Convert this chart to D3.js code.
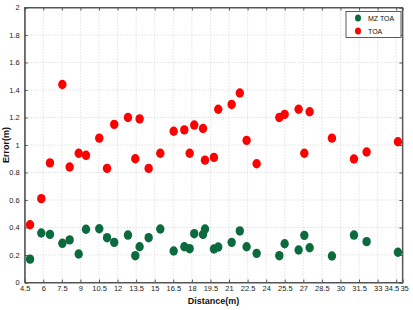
<!DOCTYPE html>
<html><head><meta charset="utf-8">
<script src="https://cdn.jsdelivr.net/npm/d3@7"></script>
<style>
body{margin:0;background:#fff;}
svg{display:block;font-family:"Liberation Sans",Arial,sans-serif;}
</style></head>
<body><svg id="c" width="413" height="310"></svg>
<script>
const distances = [4.93,5.84,6.54,7.54,8.13,8.86,9.45,10.52,11.15,11.73,12.84,13.43,13.78,14.51,15.45,16.53,17.39,17.82,18.19,18.9,19.06,19.78,20.13,21.21,21.87,22.42,23.23,25.06,25.49,26.62,27.08,27.51,29.31,31.09,32.11,34.64];
const toa = [0.42,0.61,0.87,1.44,0.84,0.94,0.925,1.05,0.83,1.15,1.20,0.90,1.19,0.83,0.94,1.10,1.11,0.94,1.145,1.12,0.89,0.91,1.26,1.295,1.378,1.034,0.864,1.20,1.223,1.26,0.94,1.242,1.05,0.898,0.949,1.024];
const mzToa = [0.17,0.36,0.35,0.285,0.31,0.207,0.387,0.391,0.326,0.292,0.345,0.195,0.26,0.326,0.389,0.229,0.26,0.246,0.355,0.35,0.389,0.244,0.258,0.292,0.375,0.26,0.212,0.195,0.282,0.236,0.343,0.253,0.193,0.345,0.297,0.22];
const xTicks = [4.5,6,7.5,9,10.5,12,13.5,15,16.5,18,19.5,21,22.5,24,25.5,27,28.5,30,31.5,33,34.5,35];
const yTicks = [0,0.2,0.4,0.6,0.8,1,1.2,1.4,1.6,1.8,2];
const seriesNames = ["MZ TOA","TOA"];
const seriesColors = ["#0b6b3f","#ff0000"];

const svg = d3.select("#c");
const L=24.7, R=402.4, T=7.5, B=282.5;
const x = d3.scaleLinear().domain([4.5,35]).range([L,R]);
const y = d3.scaleLinear().domain([0,2]).range([B,T]);

// grid
const g = svg.append("g");
g.selectAll(".vg").data(xTicks).join("line")
  .attr("x1",d=>x(d)).attr("x2",d=>x(d)).attr("y1",T).attr("y2",B)
  .attr("stroke","#c8c8c8").attr("stroke-width",0.8).attr("stroke-dasharray","1,2");
g.selectAll(".hg").data(yTicks).join("line")
  .attr("x1",L).attr("x2",R).attr("y1",d=>y(d)).attr("y2",d=>y(d))
  .attr("stroke","#c8c8c8").attr("stroke-width",0.8).attr("stroke-dasharray","1,2");

// box
svg.append("rect").attr("x",L).attr("y",T).attr("width",R-L).attr("height",B-T)
  .attr("fill","none").attr("stroke","#555").attr("stroke-width",1);

// axes
const xa = svg.append("g").attr("transform",`translate(0,${B})`)
  .call(d3.axisBottom(x).tickValues(xTicks).tickSize(-3).tickPadding(5).tickFormat(d=>String(d)));
const ya = svg.append("g").attr("transform",`translate(${L},0)`)
  .call(d3.axisLeft(y).tickValues(yTicks).tickSize(-3).tickPadding(5).tickFormat(d=>String(d)));
svg.append("g").attr("transform",`translate(${R},0)`)
  .call(d3.axisRight(y).tickValues(yTicks).tickSize(-3).tickFormat(""));
svg.append("g").attr("transform",`translate(0,${T})`)
  .call(d3.axisTop(x).tickValues(xTicks).tickSize(-3).tickFormat(""));
svg.selectAll(".domain").attr("stroke","#555");
svg.selectAll(".tick line").attr("stroke","#555");
[xa,ya].forEach(a=>a.selectAll("text").attr("font-size","7.5px").attr("fill","#222")
  .attr("font-family","'Liberation Sans Narrow','Liberation Sans',Arial,sans-serif"));
xa.selectAll("text").attr("dy","0.5em");
// last two labels sit very close: nudge them apart
const nT = xTicks.length;
xa.selectAll(".tick").filter((d,i)=>i===nT-2).select("text").attr("text-anchor","end").attr("x",2.5);
xa.selectAll(".tick").filter((d,i)=>i===nT-1).select("text").attr("text-anchor","start").attr("x",-2.5);

// points
const pts = svg.append("g");
[mzToa, toa].forEach((vals,si)=>{
  pts.selectAll(".p"+si).data(vals).join("ellipse")
    .attr("cx",(d,i)=>x(distances[i])).attr("cy",d=>y(d))
    .attr("rx",4.2).attr("ry",4.7).attr("fill",seriesColors[si]);
});

// titles
svg.append("text").attr("x",(L+R)/2).attr("y",304).attr("text-anchor","middle")
  .attr("font-size","9px").attr("font-weight","bold").attr("fill","#111").text("Distance(m)");
svg.append("text").attr("transform",`translate(9,${(T+B)/2}) rotate(-90)`).attr("text-anchor","middle")
  .attr("font-size","9px").attr("font-weight","bold").attr("fill","#111").text("Error(m)");

// legend
const lg = svg.append("g");
lg.append("rect").attr("x",346).attr("y",11.5).attr("width",55).attr("height",26)
  .attr("fill","#fff").attr("stroke","#333").attr("stroke-width",0.8);
seriesNames.forEach((n,i)=>{
  const yy = 18 + i*13;
  lg.append("ellipse").attr("cx",358).attr("cy",yy).attr("rx",3).attr("ry",3.5).attr("fill",seriesColors[i]);
  lg.append("text").attr("x",368).attr("y",yy+2.5).attr("font-size","7px").attr("fill","#111")
    .attr("font-family","'Liberation Sans Narrow','Liberation Sans',Arial,sans-serif").text(n);
});
</script></body></html>
